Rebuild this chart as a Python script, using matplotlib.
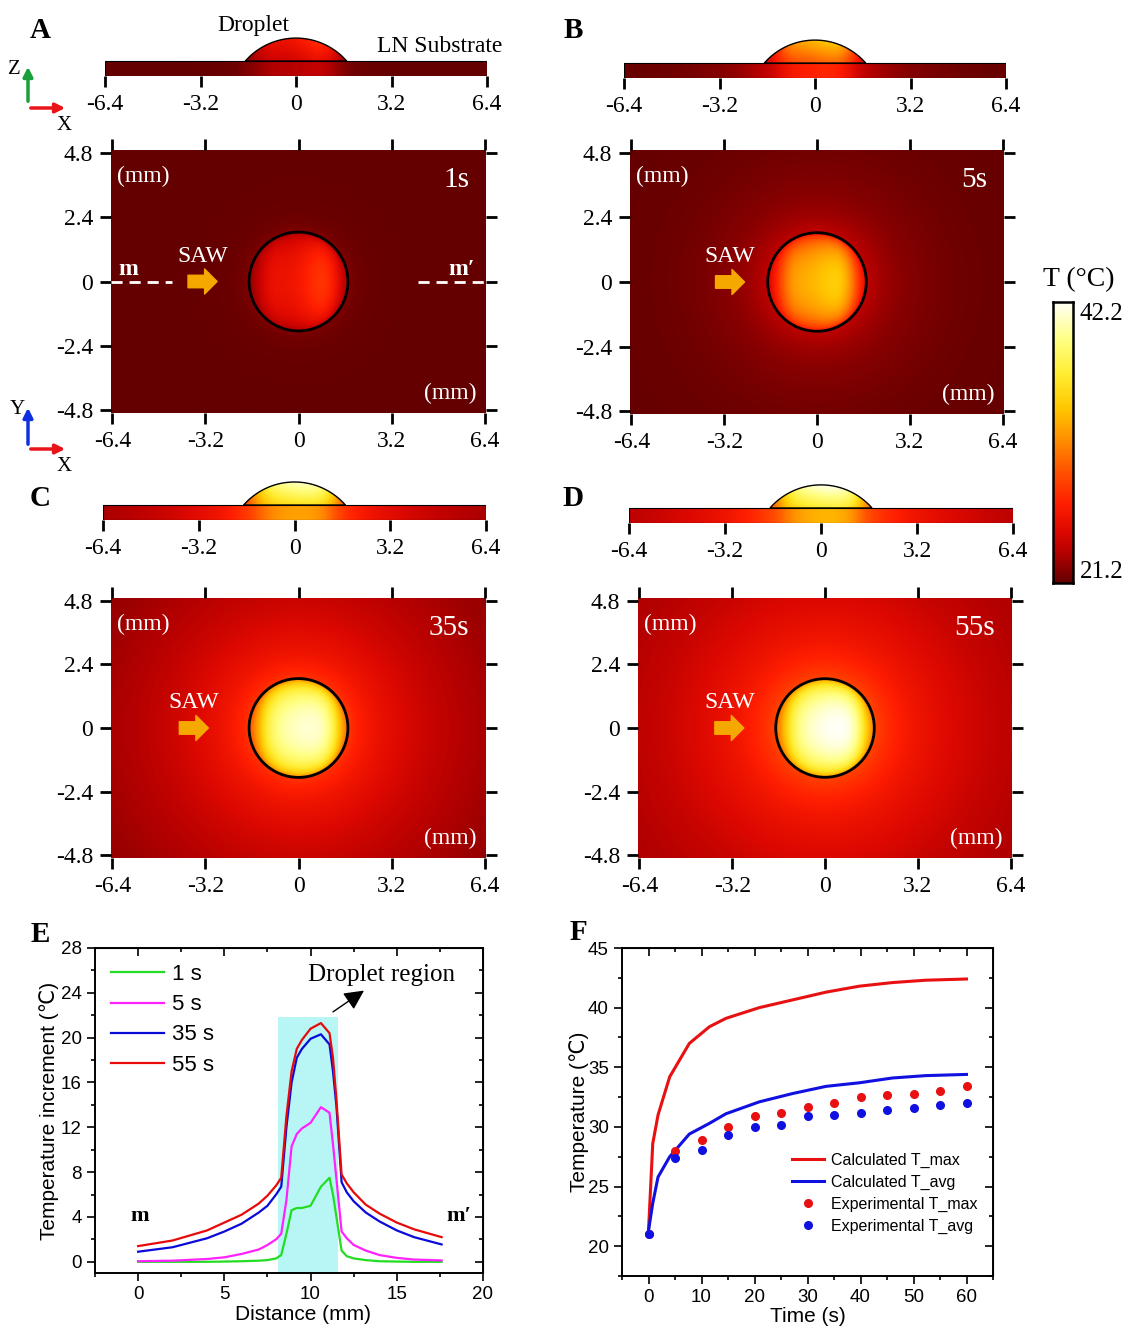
import numpy as np
import matplotlib
matplotlib.use("Agg")
import matplotlib.pyplot as plt
from matplotlib.colors import LinearSegmentedColormap
from matplotlib.patches import Ellipse, Rectangle, Polygon, FancyArrowPatch
from matplotlib.ticker import MultipleLocator

plt.rcParams['font.family'] = ['Liberation Sans', 'DejaVu Sans']
SERIF = ['Liberation Serif', 'DejaVu Serif']

# ---------------- data ----------------
# Panel E: temperature increment along m-m' line
dist_mm = [0, 2, 4, 5, 6, 7, 7.5, 8.0, 8.3, 8.6, 8.9, 9.2, 9.5, 10.0, 10.6, 11.1,
           11.3, 11.5, 11.8, 12.1, 12.5, 13.2, 14, 15, 16, 17.6]
inc_1s = [0, 0, 0, 0.02, 0.05, 0.1, 0.15, 0.3, 0.6, 2.5, 4.6, 4.8, 4.8, 5.0, 6.7, 7.5,
          6.0, 4.0, 1.0, 0.5, 0.3, 0.15, 0.05, 0.02, 0, 0]
inc_5s = [0.05, 0.1, 0.25, 0.4, 0.7, 1.1, 1.5, 2.0, 2.5, 5.5, 10.3, 11.4, 11.9, 12.4, 13.8, 13.3,
          10.5, 7.4, 2.7, 2.1, 1.5, 1.0, 0.6, 0.35, 0.2, 0.12]
inc_35s = [0.9, 1.3, 2.1, 2.7, 3.4, 4.4, 5.0, 6.0, 6.7, 12.0, 16.0, 18.2, 19.0, 19.9, 20.3, 19.4,
           17.0, 13.9, 7.1, 6.2, 5.4, 4.4, 3.6, 2.8, 2.2, 1.55]
inc_55s = [1.4, 1.9, 2.8, 3.5, 4.2, 5.2, 5.9, 6.8, 7.5, 13.0, 17.0, 19.0, 19.8, 20.8, 21.3, 20.4,
           18.2, 14.5, 7.8, 7.0, 6.2, 5.1, 4.3, 3.5, 2.9, 2.2]
series_labels = ['1 s', '5 s', '35 s', '55 s']
droplet_region = [8.1, 11.6]
droplet_region_top = 21.8

# Panel F: temperature vs time
time_calc = [0, 0.8, 1.8, 4, 7.7, 11.5, 14.6, 20.9, 27.2, 33.5, 39.8, 46, 52.3, 60]
tmax_calc = [21.3, 28.6, 31.0, 34.2, 37.0, 38.4, 39.1, 40.0, 40.65, 41.3, 41.8, 42.1, 42.3, 42.4]
tavg_calc = [21.3, 23.6, 25.8, 27.5, 29.4, 30.3, 31.1, 32.1, 32.8, 33.4, 33.7, 34.1, 34.3, 34.4]
time_exp = [0, 5, 10, 15, 20, 25, 30, 35, 40, 45, 50, 55, 60]
tmax_exp = [21.0, 28.0, 28.9, 30.0, 30.9, 31.2, 31.7, 32.0, 32.5, 32.7, 32.8, 33.0, 33.4]
tavg_exp = [21.0, 27.4, 28.1, 29.3, 30.0, 30.2, 30.9, 31.0, 31.2, 31.4, 31.6, 31.8, 32.0]

# Panels A-D
panel_times = ['1s', '5s', '35s', '55s']
T_min, T_max = 21.2, 42.2
map_ticks = [-6.4, -3.2, 0, 3.2, 6.4]
map_yticks = [-4.8, -2.4, 0, 2.4, 4.8]

# ---------------- figure ----------------
W, H = 1131, 1327
fig = plt.figure(figsize=(W / 100, H / 100), dpi=100)


def add_ax(l, t, r, b):
    return fig.add_axes([l / W, 1 - b / H, (r - l) / W, (b - t) / H])


cmap = LinearSegmentedColormap.from_list('heat', [
    (0.00, '#640000'), (0.05, '#8a0000'), (0.10, '#b20000'), (0.18, '#dc0800'),
    (0.28, '#ff1e00'), (0.40, '#ff5400'), (0.52, '#ff9400'), (0.62, '#ffc600'),
    (0.74, '#ffec30'), (0.87, '#ffff85'), (1.00, '#fffff5')])

R_HEAT = 1.7          # droplet radius in map (mm)
C_LEFT, C_RIGHT = 8.3, 11.8   # droplet edges along the E profile
C_MID = 0.5 * (C_LEFT + C_RIGHT)
SC = 0.5 * (C_RIGHT - C_LEFT) / R_HEAT


def prof(vals, d):
    return np.interp(d, dist_mm, vals)


def prof_smooth(vals, d):
    offs = [-0.35, -0.175, 0.0, 0.175, 0.35]
    return sum(prof(vals, d + o) for o in offs) / len(offs)


def field(vals, X, Y):
    r = np.hypot(X, Y)
    rc = np.maximum(r, R_HEAT) * SC - 0.5 * (C_RIGHT - C_LEFT)
    out = 0.5 * (prof(vals, C_LEFT - rc) + prof(vals, C_RIGHT + rc))
    edge = 0.5 * (prof(vals, C_LEFT) + prof(vals, C_RIGHT))
    xin = np.clip(X, -R_HEAT, R_HEAT)
    core = np.maximum(prof_smooth(vals, C_MID + xin * SC), edge)
    ymax = np.sqrt(np.maximum(R_HEAT ** 2 - xin ** 2, 1e-6))
    g = np.clip(1 - (Y / ymax) ** 2, 0, 1) ** 0.4
    inside = edge + (core - edge) * g
    return np.where(r < R_HEAT, inside, out)


def draw_top(box, vals, tlabel, saw_x, show_m=False):
    l, t, r, b = box
    ax = add_ax(l, t, r, b)
    xl, yl = 6.45, 4.9
    ky = ((b - t) / (2 * yl)) / ((r - l) / (2 * xl))
    xs = np.linspace(-xl, xl, 420)
    ys = np.linspace(-yl, yl, 320)
    X, Y = np.meshgrid(xs, ys)
    F = field(vals, X, Y * ky)
    ax.imshow(T_min + F, extent=[-xl, xl, -yl, yl], origin='lower', cmap=cmap,
              vmin=T_min, vmax=T_max, aspect='auto', interpolation='bilinear')
    ax.add_patch(Ellipse((0, 0), 2 * R_HEAT, 2 * R_HEAT / ky, fill=False, ec='black', lw=2))
    ax.set_xlim(-xl, xl)
    ax.set_ylim(-yl, yl)
    ax.set_xticks(map_ticks)
    ax.set_xticklabels(['-6.4', '-3.2', '0', '3.2', '6.4'])
    ax.set_yticks(map_yticks)
    ax.set_yticklabels(['-4.8', '-2.4', '0', '2.4', '4.8'])
    ax.tick_params(top=True, right=True, direction='out', length=8, width=2, pad=5,
                   labelsize=17)
    for lab in ax.get_xticklabels() + ax.get_yticklabels():
        lab.set_family(SERIF)
    for s in ax.spines.values():
        s.set_visible(False)
    wt = dict(color='white', family=SERIF, transform=ax.transAxes)
    ax.text(0.085, 0.90, '(mm)', ha='center', va='center', fontsize=17, **wt)
    ax.text(0.905, 0.075, '(mm)', ha='center', va='center', fontsize=17, **wt)
    ax.text(0.955, 0.885, tlabel, ha='right', va='center', fontsize=21, **wt)
    ax.text(saw_x + 0.5, 0.95, 'SAW', ha='center', va='center', fontsize=17,
            color='white', family=SERIF)
    ax.annotate('', xy=(saw_x + 1.0, 0), xytext=(saw_x, 0),
                arrowprops=dict(arrowstyle='simple,head_length=0.5,head_width=1.0,tail_width=0.5',
                                color='#f5a800', mutation_scale=18, shrinkA=0, shrinkB=0))
    if show_m:
        ax.plot([-xl, -4.35], [0, 0], color='white', lw=2, ls=(0, (4, 2.5)))
        ax.plot([4.1, xl], [0, 0], color='white', lw=2, ls=(0, (4, 2.5)))
        ax.text(-5.85, 0.45, 'm', color='white', fontsize=17, fontweight='bold',
                family=SERIF, ha='center', va='center')
        ax.text(5.6, 0.45, 'm\u2032', color='white', fontsize=17, fontweight='bold',
                family=SERIF, ha='center', va='center')
    return ax


def draw_side(l, r, bottom, vals):
    pxmm = (r - l) / 12.8
    top = bottom - 1.3 * pxmm
    ax = add_ax(l, top, r, bottom)
    ax.set_xlim(-6.4, 6.4)
    ax.set_ylim(-0.5, 0.8)
    edge = 0.5 * (prof(vals, C_LEFT) + prof(vals, C_RIGHT))
    xs = np.linspace(-6.4, 6.4, 500)
    ax_abs = np.abs(xs)
    rc = np.maximum(ax_abs, R_HEAT) * SC - 0.5 * (C_RIGHT - C_LEFT)
    out = 0.5 * (prof(vals, C_LEFT - rc) + prof(vals, C_RIGHT + rc))
    xin = np.clip(xs, -R_HEAT, R_HEAT)
    core = np.maximum(prof_smooth(vals, C_MID + xin * SC), edge)
    under = edge + 0.35 * (core - edge) * np.sqrt(np.clip(1 - (xin / R_HEAT) ** 2, 0, 1))
    strip = np.where(ax_abs < R_HEAT, under, out)
    ax.imshow(T_min + np.tile(strip, (2, 1)), extent=[-6.4, 6.4, -0.5, 0], origin='lower',
              cmap=cmap, vmin=T_min, vmax=T_max, aspect='auto', interpolation='bilinear')
    # droplet cap
    a, h = 1.7, 0.77
    Rs = (a ** 2 + h ** 2) / (2 * h)
    cx = np.linspace(-a, a, 200)
    cz = np.linspace(0, h, 60)
    CX, CZ = np.meshgrid(cx, cz)
    ccore = np.maximum(prof_smooth(vals, C_MID + CX * SC), edge)
    cap = edge + (ccore - edge) * (0.6 + 0.4 * CZ / h)
    im = ax.imshow(T_min + cap, extent=[-a, a, 0, h], origin='lower', cmap=cmap,
                   vmin=T_min, vmax=T_max, aspect='auto', interpolation='bilinear')
    px = np.linspace(-a, a, 120)
    pz = np.sqrt(Rs ** 2 - px ** 2) - (Rs - h)
    poly = Polygon(np.column_stack([px, pz]), closed=True, transform=ax.transData,
                   fill=False, ec='black', lw=1)
    ax.add_patch(poly)
    im.set_clip_path(poly)
    ax.add_patch(Rectangle((-6.4, -0.5), 12.8, 0.5, fill=False, ec='black', lw=0.8))
    ax.set_xticks(map_ticks)
    ax.set_xticklabels(['-6.4', '-3.2', '0', '3.2', '6.4'])
    ax.set_yticks([])
    ax.tick_params(axis='x', direction='out', length=8, width=2, pad=5, labelsize=17)
    for lab in ax.get_xticklabels():
        lab.set_family(SERIF)
    for k in ['top', 'left', 'right', 'bottom']:
        ax.spines[k].set_visible(False)
    return ax


curves = [inc_1s, inc_5s, inc_35s, inc_55s]
top_boxes = [(111, 150, 486, 413), (630, 150, 1004, 414), (111, 598, 486, 858), (638, 598, 1012, 858)]
side_specs = [(105, 487, 76), (624, 1006, 78), (103, 486, 520), (629, 1013, 523)]
saw_xs = [-3.8, -3.5, -4.1, -3.8]
for i in range(4):
    draw_side(*side_specs[i], curves[i])
    draw_top(top_boxes[i], curves[i], panel_times[i], saw_xs[i], show_m=(i == 0))

# colorbar
cax = add_ax(1053, 302, 1073, 583)
grad = np.linspace(T_min, T_max, 256).reshape(-1, 1)
cax.imshow(grad, extent=[0, 1, T_min, T_max], origin='lower', cmap=cmap,
           vmin=T_min, vmax=T_max, aspect='auto')
cax.set_xticks([])
cax.set_yticks([])
for s in cax.spines.values():
    s.set_linewidth(1.8)
fig.text(1079 / W, 1 - 280 / H, 'T (\u00b0C)', ha='center', va='center', fontsize=20, family=SERIF)
fig.text(1080 / W, 1 - 314 / H, f'{T_max:.1f}', ha='left', va='center', fontsize=18, family=SERIF)
fig.text(1080 / W, 1 - 572 / H, f'{T_min:.1f}', ha='left', va='center', fontsize=18, family=SERIF)

# panel letters & labels
for lt, (x, y) in zip('ABCDEF', [(40, 30), (573, 30), (40, 498), (573, 498), (40, 934), (578, 932)]):
    fig.text(x / W, 1 - y / H, lt, fontsize=21, fontweight='bold', family=SERIF,
             ha='center', va='center')
fig.text(253 / W, 1 - 25 / H, 'Droplet', fontsize=17, family=SERIF, ha='center', va='center')
fig.text(440 / W, 1 - 47 / H, 'LN Substrate', fontsize=17, family=SERIF, ha='center', va='center')


def fig_arrow(p0, p1, color):
    fig.add_artist(FancyArrowPatch((p0[0] / W, 1 - p0[1] / H), (p1[0] / W, 1 - p1[1] / H),
                                   transform=fig.transFigure, arrowstyle='-|>',
                                   mutation_scale=14, color=color, lw=2.5))


fig_arrow((28, 104), (28, 64), '#1aa03a')
fig_arrow((28, 108), (68, 108), '#e8141a')
fig.text(14 / W, 1 - 70 / H, 'Z', fontsize=15, family=SERIF, ha='center', va='center')
fig.text(64 / W, 1 - 125 / H, 'X', fontsize=15, family=SERIF, ha='center', va='center')
fig_arrow((28, 447), (28, 405), '#1030e0')
fig_arrow((28, 449), (68, 449), '#e8141a')
fig.text(17 / W, 1 - 410 / H, 'Y', fontsize=15, family=SERIF, ha='center', va='center')
fig.text(64 / W, 1 - 467 / H, 'X', fontsize=15, family=SERIF, ha='center', va='center')


def origin_axes(ax, xmaj, xmin, ymaj, ymin):
    ax.xaxis.set_major_locator(MultipleLocator(xmaj))
    ax.xaxis.set_minor_locator(MultipleLocator(xmin))
    ax.yaxis.set_major_locator(MultipleLocator(ymaj))
    ax.yaxis.set_minor_locator(MultipleLocator(ymin))
    ax.tick_params(which='major', direction='out', length=6, width=1.2, labelsize=13.5)
    ax.tick_params(which='minor', direction='out', length=3, width=1.2)
    for s in ax.spines.values():
        s.set_linewidth(1.4)
    sx = ax.secondary_xaxis('top')
    sx.xaxis.set_major_locator(MultipleLocator(xmaj))
    sx.xaxis.set_minor_locator(MultipleLocator(xmin))
    sx.tick_params(which='major', direction='in', length=6, width=1.2, labeltop=False)
    sx.tick_params(which='minor', direction='in', length=3, width=1.2)
    sy = ax.secondary_yaxis('right')
    sy.yaxis.set_major_locator(MultipleLocator(ymaj))
    sy.yaxis.set_minor_locator(MultipleLocator(ymin))
    sy.tick_params(which='major', direction='in', length=6, width=1.2, labelright=False)
    sy.tick_params(which='minor', direction='in', length=3, width=1.2)


# ---------------- panel E ----------------
axE = add_ax(95, 948, 483, 1273)
axE.add_patch(Rectangle((droplet_region[0], -1), droplet_region[1] - droplet_region[0],
                        droplet_region_top + 1, color='#b8f6f6', lw=0))
colsE = ['#22dd22', '#ff22ff', '#0a0ad8', '#e80a0a']
for vals, lab, c in zip(curves, series_labels, colsE):
    axE.plot(dist_mm, vals, color=c, lw=1.6, label=lab)
axE.set_xlim(-2.5, 20)
axE.set_ylim(-1, 28)
origin_axes(axE, 5, 2.5, 4, 2)
axE.set_xlabel('Distance (mm)', fontsize=15)
axE.xaxis.set_label_coords(0.536, -0.098)
axE.set_ylabel('Temperature increment (\u2103)', fontsize=15)
axE.yaxis.set_label_coords(-0.093, 0.5)
axE.legend(loc='upper left', bbox_to_anchor=(0.0, 0.998), frameon=False, fontsize=16,
           handlelength=2.4, handletextpad=0.35, labelspacing=0.41, borderaxespad=0.3)
axE.text(0.1, 4.1, 'm', fontsize=16, fontweight='bold', family=SERIF, ha='center', va='center')
axE.text(18.6, 4.1, 'm\u2032', fontsize=16, fontweight='bold', family=SERIF, ha='center', va='center')
axE.text(14.1, 25.6, 'Droplet region', fontsize=18, family=SERIF, ha='center', va='center')
axE.annotate('', xy=(13.1, 24.2), xytext=(11.3, 22.3),
             arrowprops=dict(arrowstyle='-|>', color='black', lw=1, mutation_scale=30,
                             shrinkA=0, shrinkB=0))

# ---------------- panel F ----------------
axF = add_ax(622, 948, 993, 1276)
axF.plot(time_calc, tmax_calc, color='#e81010', lw=2.2, label='Calculated T_max')
axF.plot(time_calc, tavg_calc, color='#1010e0', lw=2.2, label='Calculated T_avg')
axF.plot(time_exp, tmax_exp, 'o', color='#e81010', ms=5.5, label='Experimental T_max')
axF.plot(time_exp, tavg_exp, 'o', color='#1010e0', ms=5.5, label='Experimental T_avg')
axF.set_xlim(-5, 65)
axF.set_ylim(17.5, 45)
origin_axes(axF, 10, 5, 5, 2.5)
axF.set_xlabel('Time (s)', fontsize=15)
axF.xaxis.set_label_coords(0.5, -0.093)
axF.set_ylabel('Temperature (\u2103)', fontsize=15)
axF.yaxis.set_label_coords(-0.09, 0.5)
axF.legend(loc='upper left', bbox_to_anchor=(0.442, 0.395), frameon=False, fontsize=11.5,
           handlelength=2.0, handletextpad=0.4, labelspacing=0.42, borderaxespad=0.0)

fig.savefig('out.png', dpi=100)
